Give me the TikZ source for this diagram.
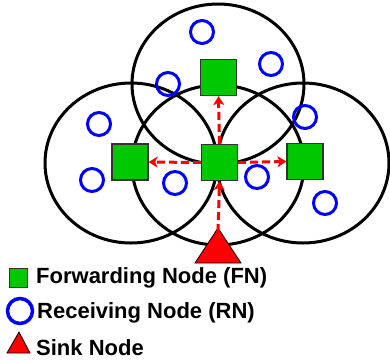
\documentclass[tikz,border=0pt]{standalone}
\usepackage{fontspec}
\setmainfont{Liberation Sans}
\usetikzlibrary{arrows.meta}
\definecolor{fngreen}{RGB}{0,200,0}
\definecolor{rnblue}{RGB}{0,0,255}
\definecolor{sinkred}{RGB}{255,0,0}
\tikzset{
  radiorange/.style={draw=black, line width=3pt},
  fnbox/.style={draw=black!80, line width=1.2pt, fill=fngreen, rectangle,
    minimum size=36pt, inner sep=0pt},
  rnring/.style={draw=rnblue, line width=3pt, circle, minimum size=23pt, inner sep=0pt},
  hop/.style={draw=sinkred, line width=3pt, dash pattern=on 8pt off 4pt,
    -{Stealth[length=9pt,width=11pt,inset=2.5pt]}},
  sinkshape/.style={draw=black, line width=0.8pt, fill=sinkred},
  legendtext/.style={anchor=base west, inner sep=0pt, font=\fontsize{22}{24}\selectfont\bfseries}
}
\begin{document}
\begin{tikzpicture}[x=1pt, y=-1pt]
  \useasboundingbox (0,0) rectangle (390,362);

  % radio ranges of the forwarding nodes
  \draw[radiorange] (218,84) ellipse [x radius=86, y radius=80];
  \draw[radiorange] (131,163) ellipse [x radius=86, y radius=80];
  \draw[radiorange] (218,165) ellipse [x radius=86, y radius=80];
  \draw[radiorange] (303,163) ellipse [x radius=86, y radius=80];

  % receiving nodes
  \node[rnring] (r1) at (202,32) {};
  \node[rnring] (r2) at (271,64) {};
  \node[rnring] (r3) at (168,84) {};
  \node[rnring] (r4) at (99,124) {};
  \node[rnring] (r5) at (305,117) {};
  \node[rnring] (r6) at (92,180) {};
  \node[rnring] (r7) at (175,183) {};
  \node[rnring] (r8) at (257,177) {};
  \node[rnring] (r9) at (325,203) {};

  % forwarding nodes
  \node[fnbox] (fc) at (219.5,162.5) {};
  \node[fnbox] (ft) at (218.5,77.5) {};
  \node[fnbox] (fl) at (130,162) {};
  \node[fnbox] (fr) at (305,161.5) {};

  % sink node
  \draw[sinkshape] (218,228) -- (241,263) -- (195,263) -- cycle;
  \coordinate (sink) at (218,232);

  % forwarding hops
  \draw[hop] (sink) -- (fc.south);
  \draw[hop] (fc.north) -- (ft.south);
  \draw[hop] (fc.west) -- (fl.east);
  \draw[hop] (fc.east) -- (fr.west);

  % legend
  \node[fnbox, minimum size=18.5pt, line width=0.8pt] (lfn) at (18.5,278) {};
  \node[legendtext] (tfn) at (36,283) {Forwarding Node (FN)};
  \node[rnring, minimum size=25pt, line width=3.5pt] (lrn) at (20,311) {};
  \node[legendtext] (trn) at (37,318) {Receiving Node (RN)};
  \draw[sinkshape] (19,332) -- (30,353) -- (7,353) -- cycle;
  \node[legendtext] (tsn) at (36,355) {Sink Node};
\end{tikzpicture}
\end{document}
